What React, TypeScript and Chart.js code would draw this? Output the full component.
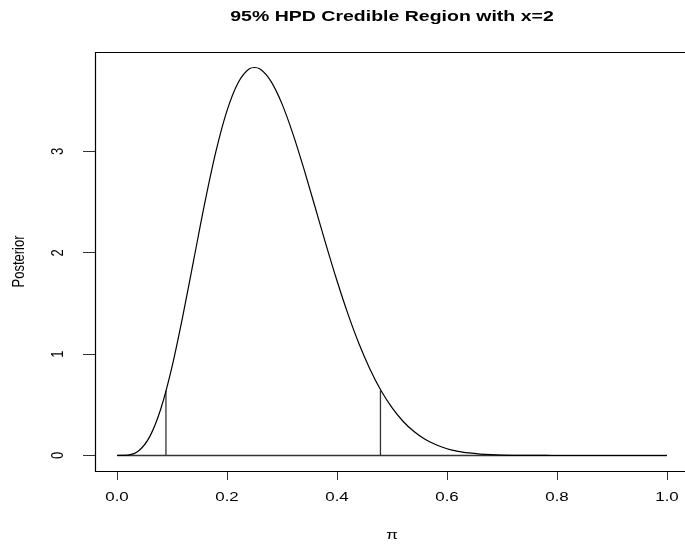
import { useEffect, useRef } from 'react';
import { Chart, registerables } from 'chart.js';

Chart.register(...registerables);

// ---- data ----
const chartTitle = '95% HPD Credible Region with x=2';
const xAxisTitle = 'π';
const yAxisTitle = 'Posterior';

const piGrid = [
  0, 0.02, 0.04, 0.06, 0.08, 0.1, 0.12, 0.14, 0.16, 0.18, 0.2, 0.22, 0.24, 0.25,
  0.26, 0.28, 0.3, 0.32, 0.34, 0.36, 0.38, 0.4, 0.42, 0.44, 0.46, 0.48, 0.5,
  0.52, 0.54, 0.56, 0.58, 0.6, 0.62, 0.64, 0.66, 0.68, 0.7, 0.72, 0.74, 0.76,
  0.78, 0.8, 0.85, 0.9, 0.95, 1.0,
];
const posterior = [
  0, 0.0039, 0.0485, 0.191, 0.466, 0.874, 1.384, 1.945, 2.502, 3.002, 3.402,
  3.676, 3.813, 3.828, 3.813, 3.691, 3.469, 3.171, 2.825, 2.454, 2.081, 1.724,
  1.395, 1.103, 0.852, 0.642, 0.472, 0.338, 0.236, 0.160, 0.106, 0.067, 0.041,
  0.025, 0.014, 0.0076, 0.0039, 0.0019, 0.0009, 0.0004, 0.0002, 0.0001, 0, 0,
  0, 0,
];
const hpdBounds = [0.089, 0.479];
const hpdHeights = [0.64, 0.64];
const baselineRange = [0, 1];

const xTicks = [0, 0.2, 0.4, 0.6, 0.8, 1.0];
const xTickLabels = ['0.0', '0.2', '0.4', '0.6', '0.8', '1.0'];
const yTicks = [0, 1, 2, 3];
const yTickLabels = ['0', '1', '2', '3'];

const X_RANGE = [-0.04, 1.04];
const Y_RANGE = [-0.153, 3.981];

const FONT = "'Liberation Sans', Arial, Helvetica, sans-serif";
const SX_TITLE = 1.3;
const SX_TICK = 1.3;

function drawText(
  ctx: CanvasRenderingContext2D,
  text: string,
  x: number,
  y: number,
  font: string,
  sx: number,
  rotate = false,
) {
  ctx.save();
  ctx.translate(x, y);
  ctx.scale(sx, 1);
  if (rotate) ctx.rotate(-Math.PI / 2);
  ctx.font = font;
  ctx.fillStyle = '#000';
  ctx.textAlign = 'center';
  ctx.textBaseline = 'middle';
  ctx.fillText(text, 0, 0);
  ctx.restore();
}

export default function App() {
  const ref = useRef<HTMLCanvasElement>(null);

  useEffect(() => {
    const canvas = ref.current;
    if (!canvas) return;

    const textPlugin = {
      id: 'rStyleText',
      afterDraw(chart: any) {
        const { ctx, chartArea: a, scales } = chart;
        const l = Math.round(a.left) + 0.5;
        const t = Math.round(a.top) + 0.5;
        const b = Math.round(a.bottom) + 0.5;
        const r = a.right;
        ctx.save();
        ctx.strokeStyle = '#000';
        ctx.lineWidth = 1.2;
        ctx.beginPath();
        ctx.moveTo(r, t);
        ctx.lineTo(l, t);
        ctx.lineTo(l, b);
        ctx.lineTo(r, b);
        ctx.stroke();
        ctx.restore();

        const cx = (a.left + a.right) / 2;
        drawText(ctx, chartTitle, cx, 16.5, `bold 15px ${FONT}`, SX_TITLE);

        xTicks.forEach((v, i) => {
          drawText(ctx, xTickLabels[i], scales.x.getPixelForValue(v), 497, `13px ${FONT}`, SX_TICK);
        });
        yTicks.forEach((v, i) => {
          drawText(ctx, yTickLabels[i], 58.5, scales.y.getPixelForValue(v), `13px ${FONT}`, SX_TICK, true);
        });
        drawText(ctx, xAxisTitle, cx, 535, `13px ${FONT}`, SX_TICK);
        drawText(ctx, yAxisTitle, 19, (a.top + a.bottom) / 2, `13px ${FONT}`, SX_TICK, true);
      },
    };

    const curve = piGrid.map((x, i) => ({ x, y: posterior[i] }));
    const baseline = baselineRange.map((x) => ({ x, y: 0 }));
    const lineDs = (data: { x: number; y: number }[], color: string, width: number, extra: any = {}) => ({
      data,
      borderColor: color,
      borderWidth: width,
      pointRadius: 0,
      fill: false,
      ...extra,
    });

    const chart = new Chart(canvas, {
      type: 'line',
      data: {
        datasets: [
          lineDs(curve, '#000', 1.2, { cubicInterpolationMode: 'monotone' }),
          lineDs(baseline, '#333', 1.3),
          ...hpdBounds.map((bd, i) =>
            lineDs(
              [
                { x: bd, y: 0 },
                { x: bd, y: hpdHeights[i] },
              ],
              '#333',
              1.3,
            ),
          ),
        ],
      },
      options: {
        responsive: false,
        animation: false,
        devicePixelRatio: 1,
        layout: { padding: { top: 52, right: 11, left: 0, bottom: 0 } },
        plugins: {
          legend: { display: false },
          tooltip: { enabled: false },
          title: { display: false },
        },
        scales: {
          x: {
            type: 'linear',
            min: X_RANGE[0],
            max: X_RANGE[1],
            border: { display: false },
            grid: {
              drawOnChartArea: false,
              drawTicks: true,
              tickLength: 9,
              color: '#333',
              lineWidth: 1,
            },
            ticks: { display: false },
            afterBuildTicks: (scale: any) => {
              scale.ticks = xTicks.map((value) => ({ value }));
            },
            afterFit: (scale: any) => {
              scale.height = 74;
            },
          },
          y: {
            type: 'linear',
            min: Y_RANGE[0],
            max: Y_RANGE[1],
            border: { display: false },
            grid: {
              drawOnChartArea: false,
              drawTicks: true,
              tickLength: 12,
              color: '#333',
              lineWidth: 1,
            },
            ticks: { display: false },
            afterBuildTicks: (scale: any) => {
              scale.ticks = yTicks.map((value) => ({ value }));
            },
            afterFit: (scale: any) => {
              scale.width = 95;
            },
          },
        },
      },
      plugins: [textPlugin],
    });

    return () => chart.destroy();
  }, []);

  return (
    <div
      style={{
        position: 'fixed',
        left: 0,
        top: 0,
        width: 685,
        height: 545,
        overflow: 'hidden',
        background: '#fff',
      }}
    >
      <canvas ref={ref} width={700} height={545} style={{ width: 700, height: 545, display: 'block' }} />
    </div>
  );
}
